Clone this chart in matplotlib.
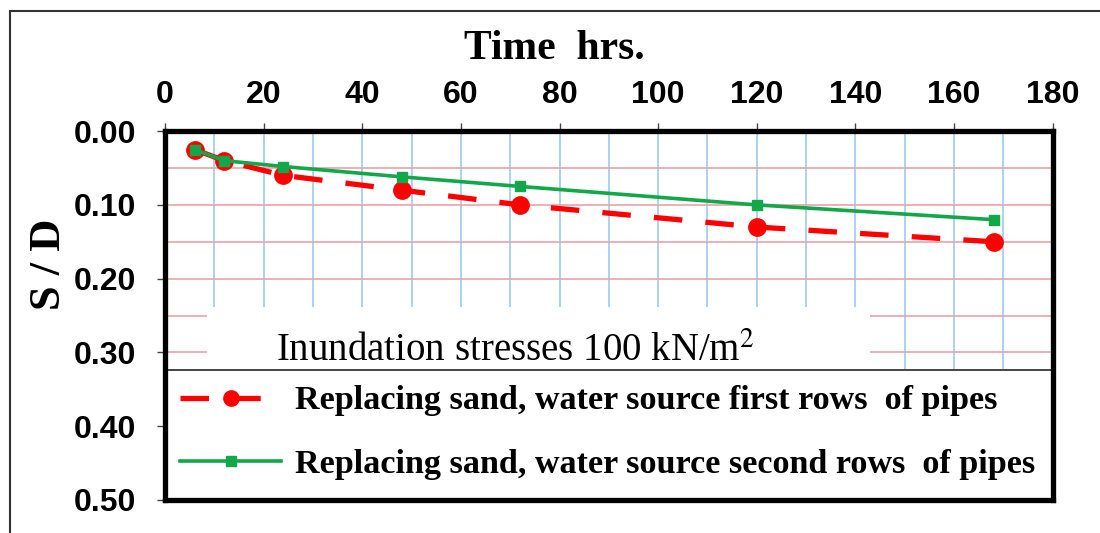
import matplotlib
matplotlib.use("Agg")
import matplotlib.pyplot as plt
from matplotlib.patches import Rectangle
from matplotlib.lines import Line2D

# Time after inundation (hours) and settlement ratio S/D
time_hrs = [6, 12, 24, 48, 72, 120, 168]
sd_first_rows = [0.025, 0.040, 0.060, 0.080, 0.100, 0.130, 0.150]
sd_second_rows = [0.025, 0.040, 0.048, 0.062, 0.075, 0.100, 0.120]

label_first = "Replacing sand, water source first rows  of pipes"
label_second = "Replacing sand, water source second rows  of pipes"
x_ticks = [0, 20, 40, 60, 80, 100, 120, 140, 160, 180]
y_ticks = [0.00, 0.10, 0.20, 0.30, 0.40, 0.50]

RED = "#ff0000"
GREEN = "#12a84a"
SERIF = "Liberation Serif"
SANS = "Liberation Sans"

fig = plt.figure(figsize=(11, 5.33), dpi=100)
ax = fig.add_axes([0.15, 0.062, 0.807, 0.692])

ax.set_xlim(0, 180)
ax.set_ylim(0.5, 0.0)

# minor grid: blue verticals every 10 h, pink horizontals every 0.05
for xv in range(10, 180, 10):
    ax.axvline(xv, color="#9ccbec", lw=1.2, zorder=0)
for k in range(1, 10):
    ax.axhline(k * 0.05, color="#eaa3aa", lw=1.2, zorder=0)

ax.plot(time_hrs, sd_first_rows, color=RED, lw=3.8, dashes=(5.4, 4.4),
        marker="o", ms=12.5, mec=RED, mfc=RED, zorder=3)
ax.plot(time_hrs, sd_second_rows, color=GREEN, lw=2.6,
        marker="s", ms=7.5, mec=GREEN, mfc=GREEN, zorder=4)

# white panel behind the loading note
ax.add_patch(Rectangle((8.5, 0.238), 134.5, 0.115, facecolor="white",
                       edgecolor="none", zorder=1))
ax.text(22.5, 0.3115, "Inundation stresses 100 kN/m$^{2}$",
        fontsize=28, family=SERIF, va="baseline", ha="left", zorder=2,
        math_fontfamily="stix")

# legend panel
ax.add_patch(Rectangle((0, 0.352), 1, -0.352, transform=ax.transAxes,
                       facecolor="white", edgecolor="#444444", lw=1.4,
                       zorder=5, clip_on=False))
handles = [
    Line2D([], [], color=RED, lw=3.8, dashes=(5.4, 4.4), marker="o",
           ms=11, mec=RED, mfc=RED),
    Line2D([], [], color=GREEN, lw=2.6, marker="s", ms=7.5,
           mec=GREEN, mfc=GREEN),
]
leg = ax.legend(handles, [label_first, label_second], loc="upper left",
                bbox_to_anchor=(0.0, 0.352), frameon=False, numpoints=1,
                prop={"family": SERIF, "weight": "bold", "size": 24.6},
                handlelength=2.95, handletextpad=0.4, borderpad=0.45,
                labelspacing=0.95, borderaxespad=0.0)
leg.set_zorder(6)

for side in ["left", "right", "top", "bottom"]:
    ax.spines[side].set_linewidth(3.8)
    ax.spines[side].set_color("black")
    ax.spines[side].set_zorder(7)

ax.xaxis.tick_top()
ax.set_xticks(x_ticks)
ax.set_xticklabels([str(v) for v in x_ticks])
ax.set_yticks(y_ticks)
ax.set_yticklabels([f"{v:.2f}" for v in y_ticks])
ax.tick_params(axis="both", direction="out", length=6, width=1,
               color="#444444", labelsize=23)
ax.tick_params(axis="x", pad=9)
ax.tick_params(axis="y", pad=15)
for lab in ax.get_xticklabels() + ax.get_yticklabels():
    lab.set_family(SANS)
    lab.set_weight("bold")

fig.text(554 / 1100, 1 - 59 / 533, "Time  hrs.", family=SERIF,
         weight="bold", fontsize=30, ha="center", va="baseline")
fig.text(49 / 1100, 1 - 264 / 533, "S / D", family=SERIF, weight="bold",
         fontsize=32, rotation=90, ha="center", va="center")

# outer frame around the figure
fig.add_artist(Rectangle((10 / 1100, -0.2), 1.3, 1.2 - 11 / 533,
                         transform=fig.transFigure, fill=False,
                         edgecolor="#333333", lw=1.5))

fig.savefig("out.png", dpi=100)
